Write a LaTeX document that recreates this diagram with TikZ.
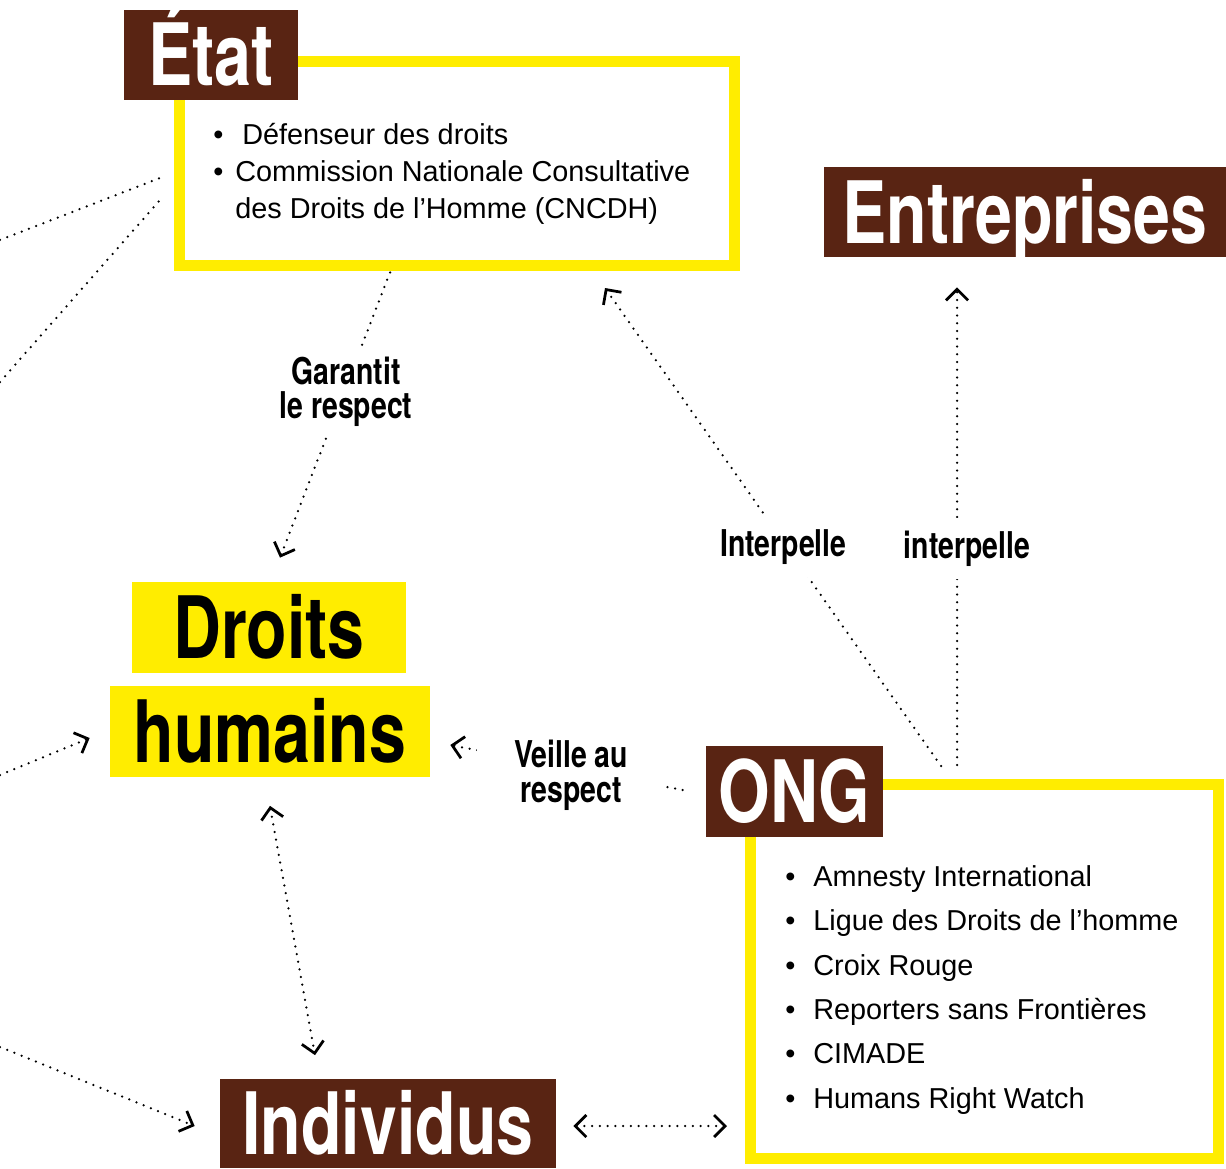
\documentclass[tikz,border=0pt]{standalone}
\usepackage{fontspec}
\setmainfont{Liberation Sans}
\newfontfamily\condfont[FakeStretch=0.77]{TeX Gyre Heros}
\usetikzlibrary{arrows.meta}
\definecolor{brun}{RGB}{89,36,19}
\definecolor{jaune}{RGB}{255,237,0}

\begin{document}
\begin{tikzpicture}[>={Straight Barb[length=2.2mm,width=4.4mm,line width=0.55mm]}]
\tikzstyle{titre}=[fill=brun,text=white,inner sep=0pt,minimum height=1.8cm,text height=12.4mm,text depth=0pt,font=\condfont\bfseries\fontsize{49}{49}\selectfont];
\tikzstyle{jbox}=[titre,fill=jaune,text=black,minimum height=1.82cm];
\tikzstyle{cadre}=[draw=jaune,line width=2.2mm,inner sep=0pt];
\tikzstyle{item}=[anchor=base west,inner sep=0pt,font=\fontsize{16.4}{21}\selectfont];
\tikzstyle{lbl}=[fill=white,align=center,inner sep=0.15cm,yshift=-0.1cm,font=\condfont\bfseries\fontsize{21}{19.6}\selectfont];
\tikzstyle{link}=[line width=0.5mm,dash pattern=on 0pt off 1.55mm,line cap=round];

\useasboundingbox (0,0) rectangle (24.52,-23.36);

% cadres jaunes
\node [cadre,minimum width=11.1cm,minimum height=4.06cm] (etatframe) at (9.14,-3.27) {};
\node [cadre,minimum width=9.35cm,minimum height=7.47cm] (ongframe) at (19.69,-19.43) {};

% titres
\node [titre,minimum width=3.48cm] (etat) at (4.22,-1.10) {État};
\node [titre,minimum width=8.04cm] (entreprises) at (20.5,-4.24) {Entreprises};
\node [jbox,minimum width=5.48cm] (droits) at (5.38,-12.55) {Droits};
\node [jbox,minimum width=6.4cm] (humains) at (5.40,-14.62) {humains};
\node [titre,minimum width=3.54cm,minimum height=1.82cm] (ong) at (15.89,-15.83) {ONG};
\node [titre,minimum width=6.72cm,minimum height=1.78cm] (individus) at (7.76,-22.46) {Individus};

% listes
\node [item] (etat1) at (4.26,-2.90) {\makebox[0.58cm][l]{\textbullet}Défenseur des droits};
\node [item] (etat2) at (4.26,-3.64) {\makebox[0.44cm][l]{\textbullet}Commission Nationale Consultative};
\node [item] (etat3) at (4.70,-4.38) {des Droits de l’Homme (CNCDH)};

\node [item] (ong1) at (15.70,-17.72) {\makebox[0.56cm][l]{\textbullet}Amnesty International};
\node [item] (ong2) at (15.70,-18.60) {\makebox[0.56cm][l]{\textbullet}Ligue des Droits de l’homme};
\node [item] (ong3) at (15.70,-19.50) {\makebox[0.56cm][l]{\textbullet}Croix Rouge};
\node [item] (ong4) at (15.70,-20.38) {\makebox[0.56cm][l]{\textbullet}Reporters sans Frontières};
\node [item] (ong5) at (15.70,-21.26) {\makebox[0.56cm][l]{\textbullet}CIMADE};
\node [item] (ong6) at (15.70,-22.16) {\makebox[0.56cm][l]{\textbullet}Humans Right Watch};

% liens
\draw [link,->] ([xshift=-1.34cm,yshift=-0.04cm]etatframe.south) -- node [lbl,pos=0.4] (garantit) {Garantit\\le respect} ([xshift=0.22cm,yshift=0.48cm]droits.north);
\draw [link,->] ([xshift=-0.87cm,yshift=0.265cm]ongframe.north) -- node [lbl,pos=0.469,inner sep=0.25cm] (interp1) {Interpelle} ([xshift=2.96cm,yshift=-0.35cm]etatframe.south);
\draw [link,->] ([xshift=-0.55cm,yshift=0.285cm]ongframe.north) -- node [lbl,pos=0.464,inner sep=0.25cm,xshift=0.2cm] (interp2) {interpelle} ([xshift=-1.36cm,yshift=-0.6cm]entreprises.south);
\draw [link,->] ([xshift=-0.46cm,yshift=0.03cm]ong.west) -- node [lbl,pos=0.48,inner xsep=0.74cm,inner ysep=0.1cm,yshift=-0.04cm] (veille) {Veille au\\respect} ([xshift=0.4cm,yshift=-0.28cm]humains.east);
\draw [link,<->] ([yshift=-0.58cm]humains.south) -- ([xshift=-1.46cm,yshift=0.46cm]individus.north);
\draw [link,<->] ([xshift=0.34cm,yshift=-0.06cm]individus.east) -- ([xshift=-0.365cm,yshift=0.755cm]ongframe.south west);

% liens venant de la gauche
\coordinate (ouestA) at (0,-4.8);
\coordinate (ouestB) at (0,-7.64);
\coordinate (ouestC) at (0,-15.5);
\coordinate (ouestD) at (0,-20.94);
\draw [link] (ouestA) -- ([xshift=-0.28cm,yshift=-0.29cm]etatframe.west);
\draw [link] (ouestB) -- ([xshift=-0.28cm,yshift=-0.73cm]etatframe.west);
\draw [link,->] (ouestC) -- ([xshift=-0.4cm,yshift=-0.14cm]humains.west);
\draw [link,->] (ouestD) -- ([xshift=-0.5cm,yshift=-0.06cm]individus.west);
\end{tikzpicture}
\end{document}
